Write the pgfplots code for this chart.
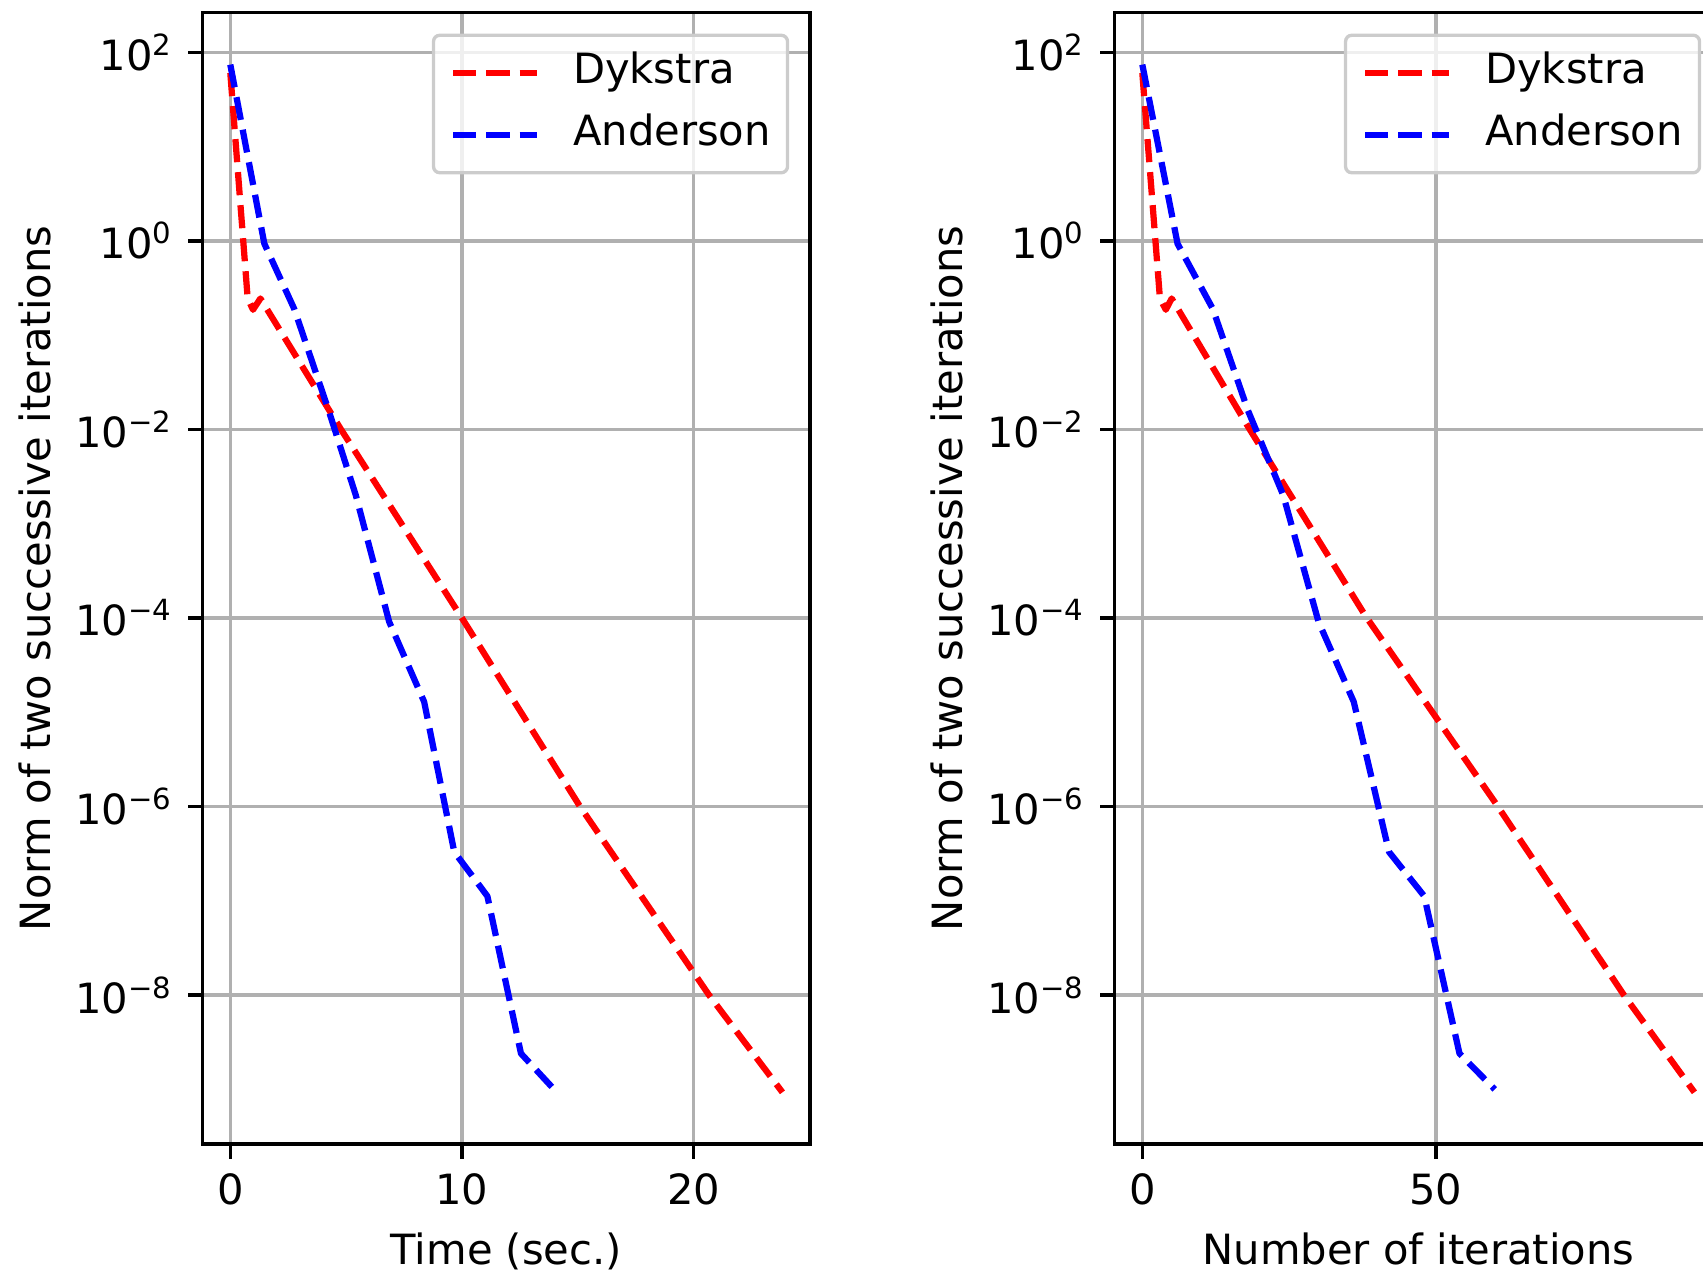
\documentclass[border=0pt]{standalone}
\usepackage{fontspec}
\setmainfont{DejaVu Sans}
\usepackage{pgfplots}
\pgfplotsset{compat=1.18}

\definecolor{gridgray}{HTML}{B0B0B0}
\definecolor{legedge}{HTML}{CCCCCC}
\newcommand{\tenp}[1]{10\textsuperscript{#1}}

\pgfplotsset{
  every axis x label/.style={at={(rel axis cs:0.5,0)}, yshift=-29pt, anchor=base},
  every axis y label/.style={at={(rel axis cs:0,0.5)}, xshift=-36.6pt, rotate=90, anchor=base},
  every tick/.style={black, line width=0.8pt},
  legend image code/.code={\draw[#1] (0pt,0pt) -- (20pt,0pt);},
}

\begin{document}
\begin{tikzpicture}
\useasboundingbox (-48.65pt,-30.48pt) rectangle (360.07pt,274.56pt);
\clip (-48.65pt,-30.48pt) rectangle (360.07pt,274.56pt);

% left: residual against time
\begin{axis}[at={(0pt,0pt)}, anchor=south west,
    scale only axis, width=145.75pt, height=271.5pt,
    ymode=log, log basis y=10,
    ymin=2.63e-10, ymax=263,
    ytick={1e2,1,1e-2,1e-4,1e-6,1e-8},
    yticklabels={\tenp{2},\tenp{0},\tenp{−2},\tenp{−4},\tenp{−6},\tenp{−8}},
    minor y tick num=0, minor x tick num=0,
    tick align=outside, major tick length=3.5pt,
    axis line style={line width=0.8pt},
    xtick pos=bottom, ytick pos=left,
    grid=major, major grid style={gridgray, line width=0.8pt},
    /pgf/number format/assume math mode=true,
    ylabel={Norm of two successive iterations},
    legend cell align=left,
    legend style={at={(1,1)}, anchor=north east, xshift=-5pt, yshift=-5pt,
      draw=legedge, line width=0.8pt, rounded corners=1.5pt,
      fill=white, fill opacity=0.8, text opacity=1,
      inner xsep=4pt, inner ysep=1.5pt, row sep=0pt, column sep=8pt,
      nodes={inner xsep=0pt, inner ysep=2.5pt, text height=7.5pt, text depth=2.5pt}},
    xmin=-1.192, xmax=25.03, xtick={0,10,20}, xlabel={Time (sec.)}]
\addplot[red, line width=1.5pt, dash pattern=on 5.55pt off 2.4pt, line join=round] coordinates {
  (0,60.3) (0.75,0.245) (0.98,0.186) (1.30,0.245) (4.78,0.0100)
  (10.0,1.0e-4) (15.1,1.0e-6) (20.67,1.0e-8) (23.84,9.3e-10)
};
\addlegendentry{Dykstra}
\addplot[blue, line width=1.5pt, dash pattern=on 5.55pt off 2.4pt, line join=round] coordinates {
  (0,74.1) (1.47,0.933) (2.76,0.19) (4.25,0.0158) (5.42,0.0020)
  (6.86,9.1e-5) (8.37,1.29e-5) (9.67,3.3e-7) (11.1,1.12e-7)
  (12.55,2.4e-9) (13.98,1.0e-9)
};
\addlegendentry{Anderson}
\end{axis}

% right: residual against iterations
\begin{axis}[at={(218.88pt,0pt)}, anchor=south west,
    scale only axis, width=145.75pt, height=271.5pt,
    ymode=log, log basis y=10,
    ymin=2.63e-10, ymax=263,
    ytick={1e2,1,1e-2,1e-4,1e-6,1e-8},
    yticklabels={\tenp{2},\tenp{0},\tenp{−2},\tenp{−4},\tenp{−6},\tenp{−8}},
    minor y tick num=0, minor x tick num=0,
    tick align=outside, major tick length=3.5pt,
    axis line style={line width=0.8pt},
    xtick pos=bottom, ytick pos=left,
    grid=major, major grid style={gridgray, line width=0.8pt},
    /pgf/number format/assume math mode=true,
    ylabel={Norm of two successive iterations},
    legend cell align=left,
    legend style={at={(1,1)}, anchor=north east, xshift=-5pt, yshift=-5pt,
      draw=legedge, line width=0.8pt, rounded corners=1.5pt,
      fill=white, fill opacity=0.8, text opacity=1,
      inner xsep=4pt, inner ysep=1.5pt, row sep=0pt, column sep=8pt,
      nodes={inner xsep=0pt, inner ysep=2.5pt, text height=7.5pt, text depth=2.5pt}},
    xmin=-4.7, xmax=98.7, xtick={0,50}, xlabel={Number of iterations}]
\addplot[red, line width=1.5pt, dash pattern=on 5.55pt off 2.4pt, line join=round] coordinates {
  (0,60.3) (3,0.245) (4,0.186) (5,0.245) (18,0.0107)
  (38,1.05e-4) (60,1.12e-6) (82,1.0e-8) (94,9.3e-10)
};
\addlegendentry{Dykstra}
\addplot[blue, line width=1.5pt, dash pattern=on 5.55pt off 2.4pt, line join=round] coordinates {
  (0,74.1) (6,0.933) (12,0.19) (18,0.0158) (24,0.0020)
  (30,9.1e-5) (36,1.29e-5) (42,3.3e-7) (48,1.12e-7)
  (54,2.4e-9) (60,1.0e-9)
};
\addlegendentry{Anderson}
\end{axis}
\end{tikzpicture}
\end{document}
